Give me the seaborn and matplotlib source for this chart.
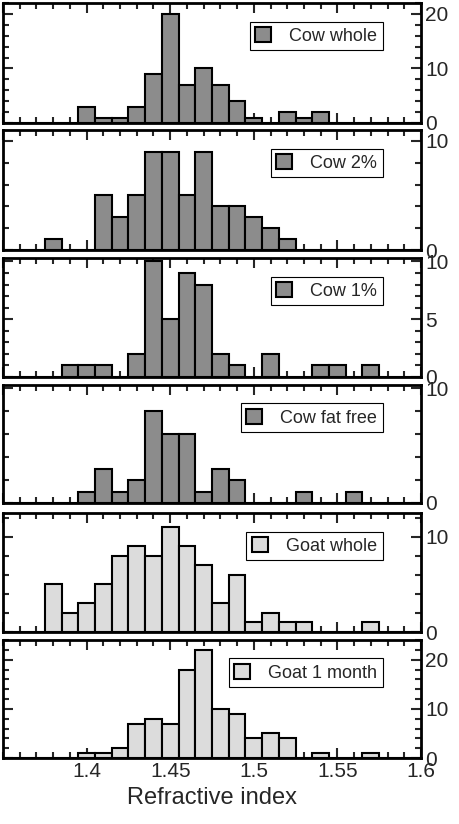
import numpy as np
import pandas as pd
import matplotlib
matplotlib.use('Agg')
import matplotlib.pyplot as plt
import seaborn as sns
from matplotlib.patches import Patch
from matplotlib.ticker import MultipleLocator

sns.set_style("white")
plt.rcParams['font.family'] = ['Liberation Sans', 'DejaVu Sans']

# bin centres (refractive index) and counts per panel
cow_whole_x = [1.40, 1.41, 1.42, 1.43, 1.44, 1.45, 1.46, 1.47, 1.48, 1.49, 1.50, 1.52, 1.53, 1.54]
cow_whole_n = [3, 1, 1, 3, 9, 20, 7, 10, 7, 4, 1, 2, 1, 2]
cow_2_x = [1.38, 1.41, 1.42, 1.43, 1.44, 1.45, 1.46, 1.47, 1.48, 1.49, 1.50, 1.51, 1.52]
cow_2_n = [1, 5, 3, 5, 9, 9, 5, 9, 4, 4, 3, 2, 1]
cow_1_x = [1.39, 1.40, 1.41, 1.43, 1.44, 1.45, 1.46, 1.47, 1.48, 1.49, 1.51, 1.54, 1.55, 1.57]
cow_1_n = [1, 1, 1, 2, 10, 5, 9, 8, 2, 1, 2, 1, 1, 1]
cow_ff_x = [1.40, 1.41, 1.42, 1.43, 1.44, 1.45, 1.46, 1.47, 1.48, 1.49, 1.53, 1.56]
cow_ff_n = [1, 3, 1, 2, 8, 6, 6, 1, 3, 2, 1, 1]
goat_whole_x = [1.38, 1.39, 1.40, 1.41, 1.42, 1.43, 1.44, 1.45, 1.46, 1.47, 1.48, 1.49,
                1.50, 1.51, 1.52, 1.53, 1.57]
goat_whole_n = [5, 2, 3, 5, 8, 9, 8, 11, 9, 7, 3, 6, 1, 2, 1, 1, 1]
goat_1m_x = [1.40, 1.41, 1.42, 1.43, 1.44, 1.45, 1.46, 1.47, 1.48, 1.49, 1.50, 1.51,
             1.52, 1.54, 1.57]
goat_1m_n = [1, 1, 2, 7, 8, 7, 18, 22, 10, 9, 4, 5, 4, 1, 1]

labels = ['Cow whole', 'Cow 2%', 'Cow 1%', 'Cow fat free', 'Goat whole', 'Goat 1 month']
xs = [cow_whole_x, cow_2_x, cow_1_x, cow_ff_x, goat_whole_x, goat_1m_x]
ns = [cow_whole_n, cow_2_n, cow_1_n, cow_ff_n, goat_whole_n, goat_1m_n]
colors = ['#8c8c8c'] * 4 + ['#dcdcdc'] * 2
ytops = [22, 11, 10.3, 10.3, 12.5, 24]
majors = [10, 10, 5, 10, 10, 10]
minors = [2, 2, 1, 2, 2, 2]

fig = plt.figure(figsize=(4.59, 8.24), dpi=100)
W, H = 459, 824
tops = [3, 130, 258, 385, 513, 640]
bots = [123, 250, 377, 503, 632, 758]

for i in range(6):
    ax = fig.add_axes([3 / W, 1 - bots[i] / H, (421 - 3) / W, (bots[i] - tops[i]) / H])
    df = pd.DataFrame({'ri': xs[i], 'n': ns[i]})
    sns.histplot(data=df, x='ri', weights='n', binwidth=0.01, binrange=(1.345, 1.605),
                 ax=ax, color=colors[i], alpha=1, edgecolor='black', linewidth=1.5)
    ax.set_xlim(1.35, 1.6)
    ax.set_ylim(0, ytops[i])
    ax.set_xlabel('')
    ax.set_ylabel('')
    ax.xaxis.set_major_locator(MultipleLocator(0.05))
    ax.xaxis.set_minor_locator(MultipleLocator(0.01))
    ax.yaxis.set_major_locator(MultipleLocator(majors[i]))
    ax.yaxis.set_minor_locator(MultipleLocator(minors[i]))
    ax.tick_params(which='both', direction='in', top=True, bottom=True,
                   left=True, right=True, labelleft=False, labelright=True,
                   width=1.5, labelsize=15, pad=3)
    ax.tick_params(which='major', length=7)
    ax.tick_params(which='minor', length=4)
    if i < 5:
        ax.tick_params(labelbottom=False)
    for s in ax.spines.values():
        s.set_linewidth(2)
        s.set_color('black')
    handle = Patch(facecolor=colors[i], edgecolor='black', linewidth=1.5)
    leg = ax.legend([handle], [labels[i]], loc='upper right',
                    bbox_to_anchor=(0.93, 0.92), fontsize=13, fancybox=False,
                    framealpha=1, edgecolor='black', handlelength=0.9,
                    handleheight=0.9, borderpad=0.3, handletextpad=1.0)
    leg.get_frame().set_linewidth(0.8)

ax.set_xlabel('Refractive index', fontsize=17)
ax.set_xticks([1.4, 1.45, 1.5, 1.55, 1.6])
ax.set_xticklabels(['1.4', '1.45', '1.5', '1.55', '1.6'])

fig.savefig('out.png', dpi=100)
